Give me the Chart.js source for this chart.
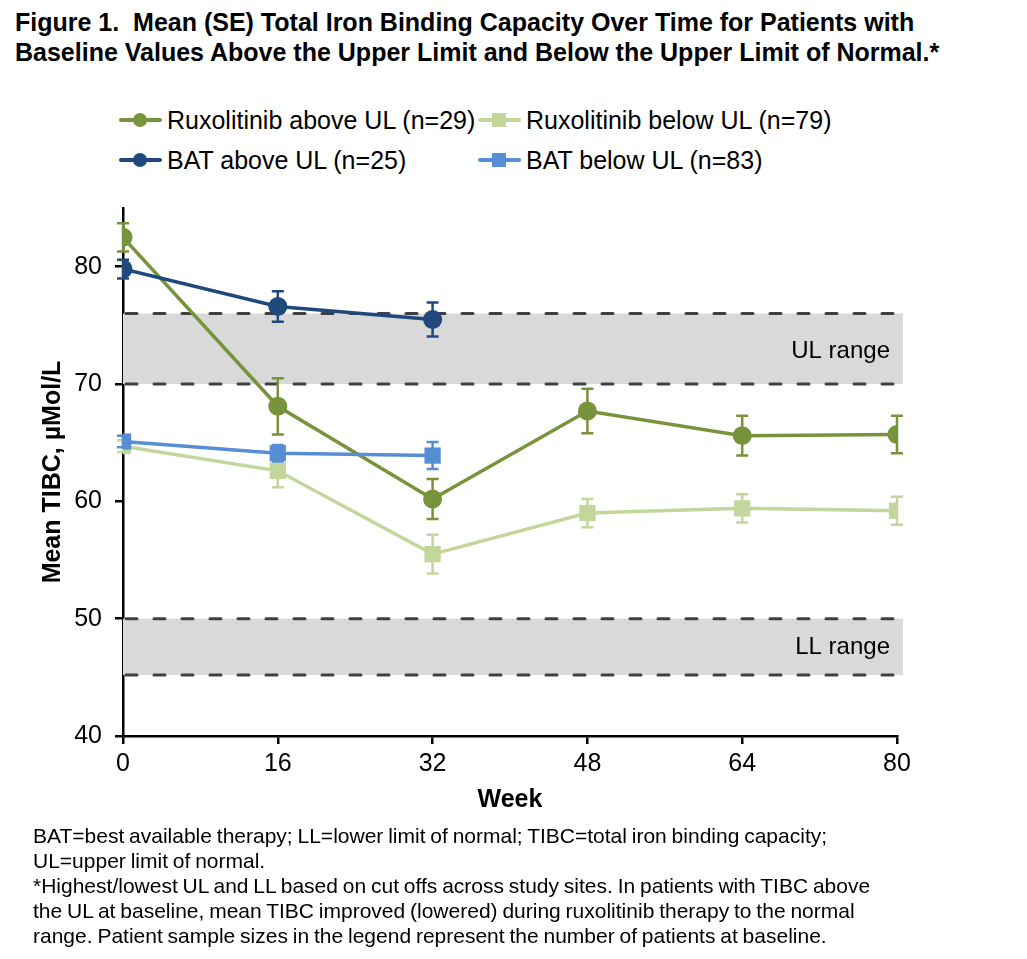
<!DOCTYPE html>
<html>
<head>
<meta charset="utf-8">
<script src="https://cdn.jsdelivr.net/npm/chart.js@4.4.1/dist/chart.umd.min.js"></script>
<style>
  body { margin: 0; width: 1027px; height: 959px; background: #fff; position: relative; overflow: hidden;
         font-family: "Liberation Sans", Arial, sans-serif; color: #000; }
  .title { position: absolute; left: 15px; top: 7px; font-weight: bold; font-size: 25px; line-height: 30px; white-space: nowrap; }
  .legend { position: absolute; left: 119px; top: 102px; display: grid; grid-template-columns: 359px 359px; row-gap: 4px; }
  .legend-item { display: flex; align-items: center; height: 36px; font-size: 25px; white-space: nowrap; }
  .swatch { position: relative; width: 43px; height: 16px; margin-right: 5px; flex: none; }
  .swatch .ln { position: absolute; left: 0; right: 0; top: 6px; height: 4px; border-radius: 2px; }
  .swatch .mk { position: absolute; left: 14px; top: 1px; width: 14px; height: 14px; }
  .wrap { position: absolute; left: 0; top: 180px; width: 1027px; height: 650px; }
  .note { position: absolute; left: 33px; top: 823px; font-size: 21px; line-height: 25px; word-spacing: -1px; white-space: nowrap; }
</style>
</head>
<body>
<div class="title">Figure 1.&nbsp; Mean (SE) Total Iron Binding Capacity Over Time for Patients with<br>Baseline Values Above the Upper Limit and Below the Upper Limit of Normal.*</div>
<div class="legend" id="legend"></div>
<div class="wrap"><canvas id="tibcChart"></canvas></div>
<div class="note">BAT=best available therapy; LL=lower limit of normal; TIBC=total iron binding capacity;<br>UL=upper limit of normal.<br>*Highest/lowest UL and LL based on cut offs across study sites. In patients with TIBC above<br>the UL at baseline, mean TIBC improved (lowered) during ruxolitinib therapy to the normal<br>range. Patient sample sizes in the legend represent the number of patients at baseline.</div>
<script>
// weeks
const weeks = [0, 16, 32, 48, 64, 80];
const weekTicks = [0, 16, 32, 48, 64, 80];

// mean TIBC (µmol/L) and SE
const ruxAbove = [82.5, 68.1, 60.2, 67.7, 65.6, 65.7];
const ruxAboveSE = [1.2, 2.4, 1.7, 1.9, 1.7, 1.6];
const ruxBelow = [64.7, 62.6, 55.5, 59.0, 59.4, 59.2];
const ruxBelowSE = [0.5, 1.4, 1.65, 1.2, 1.2, 1.2];
const batAbove = [79.8, 76.6, 75.5];
const batAboveSE = [0.8, 1.3, 1.45];
const batBelow = [65.1, 64.1, 63.9];
const batBelowSE = [0.5, 0.7, 1.15];

// normal range bands
const ulRange = [70, 76];
const llRange = [45.2, 50];

function pts(vals) {
  return vals.map((v, i) => ({ x: weeks[i], y: v }));
}

const datasets = [
  { label: 'Ruxolitinib above UL (n=29)', data: pts(ruxAbove), se: ruxAboveSE,
    borderColor: '#77933C', backgroundColor: '#77933C', pointStyle: 'circle', pointRadius: 9.5, order: 2 },
  { label: 'Ruxolitinib below UL (n=79)', data: pts(ruxBelow), se: ruxBelowSE,
    borderColor: '#C3D69B', backgroundColor: '#C3D69B', pointStyle: 'rect', pointRadius: 11.5, order: 3 },
  { label: 'BAT above UL (n=25)', data: pts(batAbove), se: batAboveSE,
    borderColor: '#1F497D', backgroundColor: '#1F497D', pointStyle: 'circle', pointRadius: 9.5, order: 1 },
  { label: 'BAT below UL (n=83)', data: pts(batBelow), se: batBelowSE,
    borderColor: '#558ED5', backgroundColor: '#558ED5', pointStyle: 'rect', pointRadius: 11.5, order: 0 }
];
datasets.forEach(d => {
  d.borderWidth = 3.5;
  d.pointBorderWidth = 0;
  d.pointHoverRadius = d.pointRadius;
  d.tension = 0;
});

// grey bands with dashed edges and labels
const bandPlugin = {
  id: 'bands',
  beforeDatasetsDraw(chart) {
    const { ctx, chartArea, scales: { x, y } } = chart;
    const left = x.getPixelForValue(0);
    const right = chartArea.right + 6;
    const draw = (range, text, shift) => {
      const top = y.getPixelForValue(range[1]);
      const bot = y.getPixelForValue(range[0]);
      ctx.save();
      ctx.fillStyle = '#D9D9D9';
      ctx.fillRect(left, top, right - left, bot - top);
      ctx.strokeStyle = '#404040';
      ctx.lineWidth = 3;
      ctx.lineCap = 'round';
      ctx.setLineDash([11, 17]);
      [top, bot].forEach(py => {
        ctx.beginPath();
        ctx.moveTo(left + 3, py);
        ctx.lineTo(right - 3, py);
        ctx.stroke();
      });
      ctx.setLineDash([]);
      ctx.fillStyle = '#000';
      ctx.font = '24px "Liberation Sans", Arial, sans-serif';
      ctx.textAlign = 'right';
      ctx.textBaseline = 'middle';
      ctx.fillText(text, x.getPixelForValue(80) - 7, (top + bot) / 2 + shift);
      ctx.restore();
    };
    draw(ulRange, 'UL range', 3);
    draw(llRange, 'LL range', 1);
  }
};

// SE error bars drawn on top of each series
const errorBarPlugin = {
  id: 'errorBars',
  afterDatasetDraw(chart, args) {
    const ds = chart.data.datasets[args.index];
    const { ctx, scales: { x, y } } = chart;
    ctx.save();
    ctx.strokeStyle = ds.borderColor;
    ctx.lineWidth = 2.5;
    ds.data.forEach((p, i) => {
      const px = x.getPixelForValue(p.x);
      const hi = y.getPixelForValue(p.y + ds.se[i]);
      const lo = y.getPixelForValue(p.y - ds.se[i]);
      ctx.beginPath();
      ctx.moveTo(px, hi); ctx.lineTo(px, lo);
      ctx.moveTo(px - 6, hi); ctx.lineTo(px + 6, hi);
      ctx.moveTo(px - 6, lo); ctx.lineTo(px + 6, lo);
      ctx.stroke();
    });
    ctx.restore();
  }
};

const tickFont = { family: '"Liberation Sans", Arial, sans-serif', size: 25 };
const titleFont = { family: '"Liberation Sans", Arial, sans-serif', size: 25, weight: 'bold' };

const ctx = document.getElementById('tibcChart').getContext('2d');
const tibcChart = new Chart(ctx, {
  type: 'line',
  data: { datasets: datasets },
  options: {
    responsive: true,
    maintainAspectRatio: false,
    animation: false,
    layout: { padding: { top: 23, right: 130, bottom: 4, left: 0 } },
    plugins: { legend: { display: false }, tooltip: { enabled: false } },
    scales: {
      x: {
        type: 'linear', min: 0, max: 80,
        afterBuildTicks: s => { s.ticks = weekTicks.map(v => ({ value: v })); },
        afterFit: s => { s.height = 90; },
        border: { color: '#000', width: 2.5 },
        grid: { drawOnChartArea: false, drawTicks: true, tickLength: 8, color: '#000', lineWidth: 2.5 },
        ticks: { font: tickFont, color: '#000', padding: 5, maxRotation: 0 },
        title: { display: true, text: 'Week', font: titleFont, color: '#000', padding: { top: 0, bottom: 11 } }
      },
      y: {
        min: 40, max: 85,
        afterFit: s => { s.width = 123; },
        border: { color: '#000', width: 2.5 },
        grid: { drawOnChartArea: false, drawTicks: true, tickLength: 8, color: '#000', lineWidth: 2.5 },
        ticks: { stepSize: 10, includeBounds: false, font: tickFont, color: '#000', padding: 13 },
        title: { display: true, text: 'Mean TIBC, µMol/L', font: titleFont, color: '#000', padding: { top: 38, bottom: 0 } }
      }
    }
  },
  plugins: [bandPlugin, errorBarPlugin]
});

// legend built from the datasets
const legend = document.getElementById('legend');
tibcChart.data.datasets.forEach(ds => {
  const item = document.createElement('div');
  item.className = 'legend-item';
  const sw = document.createElement('span');
  sw.className = 'swatch';
  const ln = document.createElement('i');
  ln.className = 'ln';
  ln.style.background = ds.borderColor;
  const mk = document.createElement('i');
  mk.className = 'mk';
  mk.style.background = ds.backgroundColor;
  if (ds.pointStyle === 'circle') mk.style.borderRadius = '50%';
  sw.appendChild(ln); sw.appendChild(mk);
  const txt = document.createElement('span');
  txt.textContent = ds.label;
  item.appendChild(sw); item.appendChild(txt);
  legend.appendChild(item);
});
</script>
</body>
</html>
